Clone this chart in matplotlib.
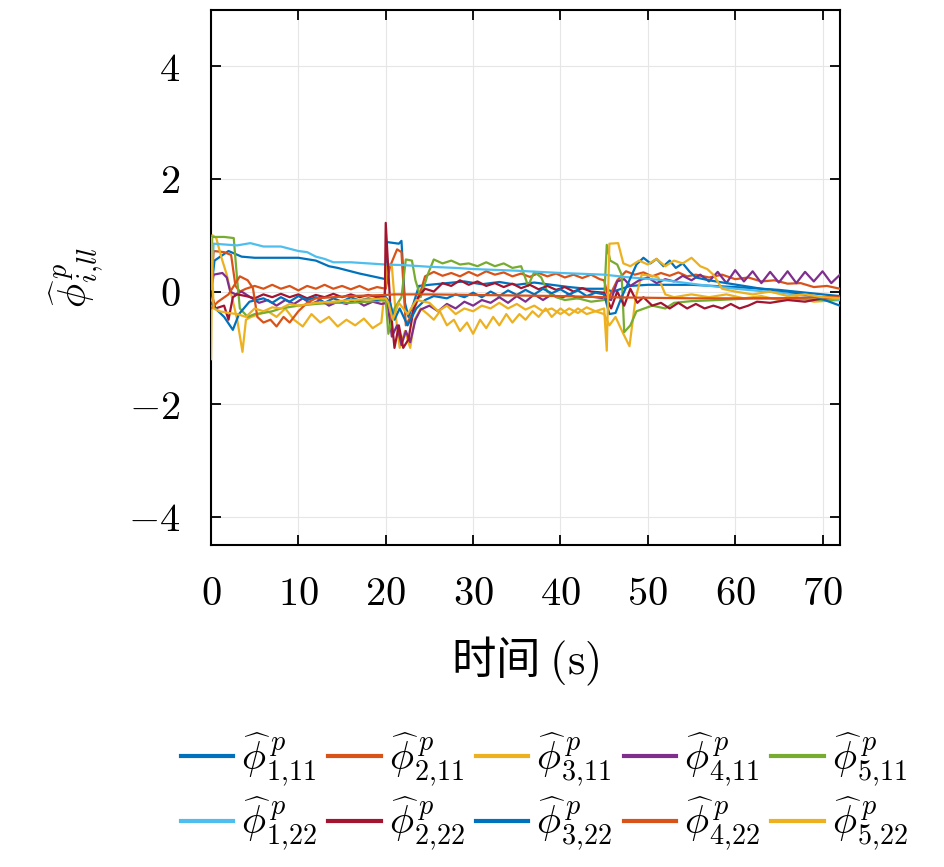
import matplotlib
matplotlib.use("Agg")
import matplotlib.pyplot as plt
from matplotlib.ticker import FuncFormatter

plt.rcParams["mathtext.fontset"] = "cm"
plt.rcParams["font.family"] = ["DejaVu Serif"]

# ---- data (time in s, estimate values) ----
T_S1_11 = [0, 0.4, 2, 3.5, 5, 7, 10, 12, 13.5, 14.5, 15.5, 17, 18.5, 20, 20.1, 21.5, 21.8,
           22.2, 22.6, 23.2, 23.8, 25, 27, 29, 31, 33, 35, 37, 39, 41, 43, 45, 46, 48, 50,
           55, 60, 65, 70, 72]
V_S1_11 = [0, 0.55, 0.72, 0.62, 0.6, 0.6, 0.6, 0.55, 0.45, 0.42, 0.38, 0.32, 0.27, 0.22, 0.88,
           0.85, 0.9, -0.2, -0.45, -0.2, 0.1, 0.12, 0.15, 0.18, 0.13, 0.17, 0.12, 0.16, 0.12,
           0.08, 0.05, 0.05, 0.0, 0.1, 0.12, 0.12, 0.08, 0.03, -0.05, -0.08]

T_S2_11 = [0, 0.3, 1.5, 2.3, 2.8, 3.3, 4, 5, 6, 7, 8, 9, 10, 11, 12, 13, 14, 15, 16, 17, 18,
           19, 20, 20.5, 21.3, 21.8, 22.3, 23, 23.8, 24.5, 25.5, 26.5, 27.5, 28.5, 29.5, 30.5,
           31.5, 32.5, 33.5, 34.5, 35.5, 36.5, 37.5, 38.5, 39.5, 40.5, 41.5, 42.5, 43.5, 44.5,
           45, 45.5, 46.5, 47.5, 48.5, 49.5, 50.5, 51.5, 52.5, 53.5, 54.5, 55.5, 57, 58.5, 60,
           61.5, 63, 64.5, 66, 67.5, 69, 70.5, 72]
V_S2_11 = [0.0, 0.72, 0.7, 0.65, 0.1, 0.0, 0.05, 0.1, 0.05, 0.12, 0.05, 0.1, 0.02, 0.1, 0.05,
           0.12, 0.05, 0.1, 0.04, 0.1, 0.03, 0.08, 0.05, 0.45, 0.75, 0.7, -0.6, -0.4, -0.1, 0.27,
           0.35, 0.28, 0.33, 0.27, 0.35, 0.28, 0.36, 0.3, 0.34, 0.27, 0.32, 0.26, 0.33, 0.27,
           0.32, 0.25, 0.3, 0.24, 0.3, 0.22, 0.2, -0.12, 0.2, 0.36, 0.3, 0.34, 0.27, 0.33, 0.28,
           0.34, 0.27, 0.3, 0.25, 0.3, 0.22, 0.25, 0.18, 0.2, 0.14, 0.15, 0.08, 0.1, 0.05]

T_S3_11 = [0, 0.15, 0.6, 1.2, 1.8, 2.4, 3.0, 3.6, 4.0, 4.6, 5.5, 6.5, 7.5, 8.5, 9.5, 10.5,
           11.5, 12.5, 13.5, 14.5, 15.5, 16.5, 17.5, 18.5, 19.5, 20.2, 20.7, 21.2, 21.6, 22.2,
           22.8, 23.3, 24, 24.8, 25.5, 26.2, 27, 27.8, 28.5, 29.3, 30, 30.8, 31.5, 32.3, 33,
           33.8, 34.5, 35.3, 36, 36.8, 37.5, 38.3, 39, 40, 41, 42, 43, 44, 45, 45.6, 46.3, 47.2,
           47.9, 48.6, 49.3, 50.5, 51.2, 52, 53, 55, 57, 59, 61, 63, 65, 67, 69, 72]
V_S3_11 = [-1.2, 1.0, 0.95, 0.6, 0.3, -0.1, -0.5, -1.07, -0.5, -0.45, -0.4, -0.35, -0.45, -0.3,
           -0.5, -0.62, -0.4, -0.55, -0.45, -0.62, -0.5, -0.6, -0.48, -0.65, -0.55, 0.5, 0.45,
           -0.5, -1.0, -0.7, -1.0, -0.5, -0.3, -0.4, -0.5, -0.35, -0.6, -0.5, -0.7, -0.55,
           -0.75, -0.5, -0.65, -0.45, -0.6, -0.4, -0.55, -0.4, -0.5, -0.35, -0.45, -0.3, -0.45,
           -0.3, -0.42, -0.3, -0.4, -0.35, -0.4, -0.6, -0.45, -0.75, -0.97, -0.12, 0.3, 0.28,
           0.25, -0.05, -0.1, -0.05, -0.1, -0.05, -0.12, -0.08, -0.15, -0.1, -0.18, -0.15]

T_S4_11 = [0, 0.3, 1.3, 1.8, 2.2, 2.8, 3.5, 4.5, 5.5, 6.5, 7.5, 8.5, 9.5, 10.5, 11.5, 12.5,
           13.5, 14.5, 15.5, 16.5, 17.5, 18.5, 19.5, 20.2, 20.7, 21.3, 21.8, 22.3, 22.8, 23.4,
           24, 25, 26, 27, 28, 29, 30, 31, 32, 33, 34, 35, 36, 37, 38, 39, 40, 41, 42, 43, 44,
           45, 45.8, 46.5, 47.3, 48, 49, 50, 51, 52, 53, 54, 55, 56, 57, 58, 59, 60, 61, 62,
           63, 64, 65, 66, 67, 68, 69, 70, 71, 72]
V_S4_11 = [0.0, 0.3, 0.33, 0.25, 0.0, -0.05, 0.0, -0.1, -0.2, -0.15, -0.25, -0.15, -0.22,
           -0.12, -0.22, -0.15, -0.25, -0.18, -0.22, -0.15, -0.25, -0.18, -0.22, -0.2, -0.8,
           -0.6, -0.95, -0.7, -0.9, -0.5, -0.32, -0.25, -0.35, -0.22, -0.3, -0.18, -0.25, -0.15,
           -0.2, -0.1, -0.2, -0.08, -0.18, -0.05, -0.15, -0.05, -0.12, -0.05, -0.12, -0.08, -0.1,
           -0.12, -0.15, 0.18, 0.22, 0.1, 0.2, 0.25, 0.15, 0.22, 0.18, 0.28, 0.2, 0.3, 0.18,
           0.35, 0.15, 0.38, 0.18, 0.36, 0.15, 0.35, 0.16, 0.36, 0.15, 0.35, 0.18, 0.36, 0.15,
           0.3]

T_S5_11 = [0, 0.1, 1.5, 2.6, 3.0, 3.3, 4.2, 5, 6, 7, 8, 10, 12, 14, 16, 18, 20, 20.3, 21,
           21.8, 22.3, 23, 23.4, 24, 24.8, 25.5, 26.5, 27.5, 28.5, 29.5, 30.5, 31.5, 32.5, 33.5,
           34.5, 35.5, 36.3, 37, 37.8, 38.5, 39.5, 40.5, 42, 43.5, 45, 45.3, 45.7, 46.5, 47,
           47.3, 48, 48.7, 50.5, 52, 53, 55, 58, 62, 66, 70, 72]
V_S5_11 = [0.0, 0.97, 0.97, 0.95, 0.2, -0.3, -0.45, -0.4, -0.38, -0.35, -0.3, -0.25, -0.22,
           -0.2, -0.2, -0.18, -0.15, -0.75, -0.3, -0.1, 0.57, 0.55, 0.2, -0.1, 0.3, 0.57, 0.5,
           0.55, 0.48, 0.5, 0.45, 0.52, 0.45, 0.5, 0.42, 0.45, 0.1, 0.35, 0.25, 0.0, -0.1,
           -0.15, -0.12, -0.18, -0.15, 0.83, 0.55, 0.48, 0.3, -0.72, -0.6, -0.35, -0.25, -0.3,
           -0.2, -0.17, -0.15, -0.12, -0.12, -0.15, -0.15]

T_S1_22 = [0, 0.3, 3, 4.5, 6, 8, 9, 10, 11, 12, 13, 14, 16, 18, 20, 22, 25, 28, 30, 35, 40,
           45, 48, 52, 56, 60, 65, 70, 72]
V_S1_22 = [0.0, 0.85, 0.82, 0.86, 0.8, 0.8, 0.76, 0.72, 0.7, 0.62, 0.58, 0.52, 0.52, 0.5,
           0.48, 0.47, 0.44, 0.42, 0.4, 0.37, 0.33, 0.3, 0.25, 0.2, 0.12, 0.05, -0.02, -0.1,
           -0.15]

T_S2_22 = [0, 0.5, 1.5, 2, 2.5, 3, 4, 5, 6, 7, 8, 9, 10, 11, 12, 13, 14, 15, 16, 17, 18, 19,
           19.9, 20.0, 20.5, 21, 21.5, 22, 22.6, 23.2, 23.7, 24.5, 25.5, 26.5, 27.5, 28.5,
           29.5, 30.5, 31.5, 32.5, 33.5, 34.5, 35.5, 36.5, 37.5, 38.5, 39.5, 40.5, 41.5, 42.5,
           43.5, 45, 45.8, 46.5, 47.3, 48, 48.8, 49.5, 50.5, 51.5, 52.5, 53.5, 54.5, 55.5,
           56.5, 57.5, 58.5, 59.5, 60.5, 61.5, 62.5, 64, 66, 68, 70, 72]
V_S2_22 = [0.0, -0.3, -0.25, -0.5, -0.1, -0.05, -0.08, -0.12, -0.05, -0.1, -0.04, -0.1,
           -0.05, -0.12, -0.06, -0.1, -0.04, -0.1, -0.05, -0.1, -0.06, -0.1, -0.08, 1.22, -0.2,
           -1.0, -0.6, -1.0, -0.85, -0.3, -0.1, 0.05, 0.0, 0.15, 0.1, 0.2, 0.12, 0.18, 0.1,
           0.15, 0.08, 0.14, 0.06, 0.12, 0.04, 0.1, 0.03, 0.08, 0.0, 0.06, 0.0, -0.02, -0.3,
           0.0, -0.25, 0.05, -0.2, -0.1, -0.25, -0.2, -0.3, -0.2, -0.3, -0.22, -0.3, -0.25,
           -0.3, -0.22, -0.3, -0.25, -0.18, -0.2, -0.15, -0.18, -0.12, -0.1]

T_S3_22 = [0, 0.5, 1.5, 2.5, 3.2, 4.4, 6, 7, 8, 9, 10, 11, 12, 13, 14, 15, 16, 17, 18, 19,
           20, 20.5, 21, 21.6, 22.5, 23.5, 24.5, 25.5, 27, 28, 29, 30, 31, 32, 33, 34, 35, 36,
           37, 38, 39, 40, 41, 42, 43, 44, 45, 45.6, 46.3, 47, 47.6, 48.7, 49.5, 50.3, 51,
           51.8, 52.5, 53.2, 54, 54.8, 55.5, 57, 59, 61, 63, 66, 69, 72]
V_S3_22 = [-0.2, -0.3, -0.45, -0.68, -0.4, -0.18, -0.12, -0.2, -0.1, -0.18, -0.08, -0.15,
           -0.1, -0.2, -0.12, -0.18, -0.1, -0.16, -0.12, -0.15, -0.1, -0.2, -0.5, -0.3, -0.6,
           -0.3, -0.15, -0.08, -0.12, -0.05, -0.1, -0.02, -0.1, 0.0, -0.08, 0.02, -0.06, 0.03,
           -0.05, 0.05, -0.03, 0.04, -0.05, 0.02, -0.08, -0.02, -0.05, -0.4, -0.38, -0.1, 0.1,
           0.48, 0.6, 0.5, 0.58, 0.45, 0.55, 0.42, 0.5, 0.35, 0.25, 0.2, 0.15, 0.1, 0.05, 0.0,
           -0.08, -0.25]

T_S4_22 = [0, 0.8, 2, 3.3, 4.2, 4.8, 5.3, 6, 6.8, 7.5, 8.3, 9, 10, 11, 12, 14, 16, 18, 20,
           21, 25, 30, 35, 40, 45, 50, 55, 60, 65, 70, 72]
V_S4_22 = [-0.3, -0.18, -0.05, 0.27, 0.2, 0.06, -0.45, -0.55, -0.5, -0.62, -0.45, -0.55,
           -0.35, -0.2, -0.12, -0.1, -0.08, -0.07, -0.06, -0.05, -0.05, -0.06, -0.07, -0.08,
           -0.1, -0.11, -0.12, -0.12, -0.12, -0.1, -0.1]

T_S5_22 = [0, 0.3, 1, 2, 3, 4, 5, 6, 7, 8, 9, 10, 12, 14, 16, 18, 20, 20.3, 20.8, 21.5, 22.5,
           23.5, 25, 26, 27, 28, 29, 30, 31, 32, 33, 34, 35, 36, 37, 38, 39, 40, 41, 42, 43,
           44, 45, 45.3, 45.6, 46.6, 47.2, 48, 49, 50, 51, 52, 53, 54, 55, 56, 56.8, 57.5,
           58.5, 60, 62, 64, 66, 68, 70, 72]
V_S5_22 = [0.95, -0.3, -0.35, -0.38, -0.4, -0.45, -0.3, -0.35, -0.28, -0.3, -0.22, -0.25,
           -0.2, -0.18, -0.15, -0.14, -0.12, -0.2, -0.5, -0.2, -0.4, -0.15, -0.2, -0.35, -0.25,
           -0.4, -0.3, -0.35, -0.25, -0.3, -0.2, -0.3, -0.22, -0.32, -0.25, -0.35, -0.3, -0.4,
           -0.3, -0.38, -0.28, -0.35, -0.3, -1.05, 0.85, 0.86, 0.5, 0.45, 0.55, 0.48, 0.58,
           0.45, 0.55, 0.5, 0.6, 0.45, 0.4, 0.3, 0.05, 0.0, -0.05, 0.0, -0.08, -0.05, -0.1,
           -0.12]

SERIES = [
    ("1,11", T_S1_11, V_S1_11, "#0072BD"),
    ("2,11", T_S2_11, V_S2_11, "#D95319"),
    ("3,11", T_S3_11, V_S3_11, "#EDB120"),
    ("4,11", T_S4_11, V_S4_11, "#7E2F8E"),
    ("5,11", T_S5_11, V_S5_11, "#77AC30"),
    ("1,22", T_S1_22, V_S1_22, "#4DBEEE"),
    ("2,22", T_S2_22, V_S2_22, "#A2142F"),
    ("3,22", T_S3_22, V_S3_22, "#0072BD"),
    ("4,22", T_S4_22, V_S4_22, "#D95319"),
    ("5,22", T_S5_22, V_S5_22, "#EDB120"),
]

X_TICKS = [0, 10, 20, 30, 40, 50, 60, 70]
Y_TICKS = [-4, -2, 0, 2, 4]


def main():
    fig = plt.figure(figsize=(9.45, 8.67), dpi=100)
    ax = fig.add_axes([0.2233, 0.3714, 0.6656, 0.6171])

    handles = {}
    for name, t, v, color in SERIES:
        sub = name.replace(",", "{,}")
        (line,) = ax.plot(t, v, color=color, lw=1.6, zorder=3,
                          label=r"$\widehat{\phi}^{\,p}_{%s}$" % sub)
        handles[name] = line

    ax.set_xlim(0, 72)
    ax.set_ylim(-4.5, 5)
    ax.set_xticks(X_TICKS)
    ax.set_yticks(Y_TICKS)
    fmt = FuncFormatter(lambda val, pos: f"${val:g}$")
    ax.xaxis.set_major_formatter(fmt)
    ax.yaxis.set_major_formatter(fmt)

    ax.grid(True, color="#e6e6e6", lw=0.8)
    ax.set_axisbelow(True)
    ax.tick_params(direction="in", top=True, right=True, length=7, width=1.3,
                   labelsize=29, pad=22)
    for sp in ax.spines.values():
        sp.set_linewidth(1.5)

    ax.set_xlabel(r"时间 $(\mathrm{s})$", fontsize=32, labelpad=16,
                  family=["Noto Sans CJK SC", "DejaVu Sans"])
    ax.set_ylabel(r"$\widehat{\phi}^{\,p}_{i{,}ll}$", fontsize=29, labelpad=16)

    # column-major legend order so row 1 holds the ,11 entries and row 2 the ,22 entries
    order = ["1,11", "1,22", "2,11", "2,22", "3,11", "3,22", "4,11", "4,22", "5,11", "5,22"]
    fig.legend([handles[k] for k in order], [handles[k].get_label() for k in order],
               loc="center", bbox_to_anchor=(0.576, 0.087), ncol=5, frameon=False,
               fontsize=29, handlelength=1.3, handletextpad=0.2, columnspacing=0.27,
               labelspacing=0.15)
    for line in fig.legends[0].get_lines():
        line.set_linewidth(3)

    fig.savefig("out.png", dpi=100)
    plt.close(fig)


if __name__ == "__main__":
    main()
